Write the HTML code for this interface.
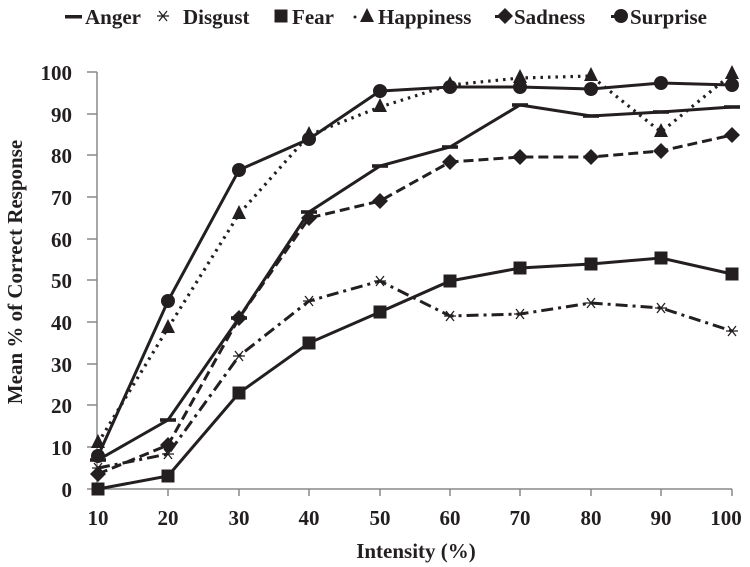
<!DOCTYPE html>
<html><head><meta charset="utf-8"><style>html,body{margin:0;padding:0;background:#fff}svg{display:block}</style></head>
<body>
<svg width="750" height="567" viewBox="0 0 750 567" xmlns="http://www.w3.org/2000/svg" font-family="'Liberation Serif',serif" font-weight="bold" fill="#231f20">
<defs>
<g id="sq"><rect x="-6.5" y="-6.5" width="13" height="13"/></g>
<g id="ci"><circle r="7"/></g>
<g id="di"><path d="M0,-8 L8,0 L0,8 L-8,0Z"/></g>
<g id="tr"><path d="M0,-9 L7,5 L-7,5Z"/></g>
<g id="an"><rect x="-8" y="-1.8" width="16" height="3.6"/></g>
<g id="as" stroke="#231f20" stroke-width="1.3" fill="none"><path d="M-6,0H6M-4,-5L4,5M4,-5L-4,5"/></g>
</defs>
<!-- legend -->
<g font-size="21">
<rect x="65" y="15" width="17" height="3.5"/><text x="85" y="24">Anger</text>
<use href="#as" x="163" y="16"/><text x="183" y="24">Disgust</text>
<use href="#sq" x="281" y="16"/><text x="292" y="24">Fear</text>
<circle cx="355" cy="17" r="1.5"/><use href="#tr" x="367" y="17"/><text x="378" y="24">Happiness</text>
<rect x="495" y="15" width="10" height="3"/><use href="#di" x="505" y="16"/><text x="514" y="24">Sadness</text>
<rect x="611" y="15" width="8" height="3"/><use href="#ci" x="621" y="16"/><text x="630" y="24">Surprise</text>
</g>
<!-- axes -->
<g stroke="#888" stroke-width="1.5" fill="none">
<path d="M97,72V489H732"/>
<path d="M87,72H97M87,114H97M87,155H97M87,197H97M87,239H97M87,280H97M87,322H97M87,364H97M87,405H97M87,447H97M87,489H97"/>
<path d="M168,489v7M239,489v7M309,489v7M380,489v7M450,489v7M520,489v7M591,489v7M661,489v7M732,489v7"/>
</g>
<g font-size="21" text-anchor="end">
<text x="72" y="80">100</text><text x="72" y="122">90</text><text x="72" y="163">80</text><text x="72" y="205">70</text><text x="72" y="247">60</text><text x="72" y="288">50</text><text x="72" y="330">40</text><text x="72" y="372">30</text><text x="72" y="413">20</text><text x="72" y="455">10</text><text x="72" y="497">0</text>
</g>
<g font-size="21" text-anchor="middle">
<text x="98" y="525">10</text><text x="168" y="525">20</text><text x="239" y="525">30</text><text x="309" y="525">40</text><text x="380" y="525">50</text><text x="450" y="525">60</text><text x="520" y="525">70</text><text x="591" y="525">80</text><text x="661" y="525">90</text><text x="726" y="525">100</text>
<text x="416" y="558">Intensity (%)</text>
<text transform="translate(22,272) rotate(-90)">Mean % of Correct Response</text>
</g>
<!-- series -->
<g fill="none" stroke="#231f20" stroke-width="3">
<polyline id="anger" points="98,460 168,420 239,318 309,212 380,166 450,147 520,105 591,116 661,112 732,107"/>
<polyline stroke-dasharray="12,5,3,5" points="98,468 168,454 239,356 309,301 380,281 450,316 520,314 591,303 661,308 732,331"/>
<polyline points="98,489 168,476 239,393 309,343 380,412 450,281 520,268 591,264 661,258 732,274" style="display:none"/>
<polyline points="98,489 168,476 239,393 309,343 380,312 450,281 520,268 591,264 661,258 732,274"/>
<polyline stroke-dasharray="2.5,5" stroke-width="3.2" points="98,443 168,328 239,214 309,135 380,107 450,85 520,78 591,76 661,132 732,74"/>
<polyline stroke-dasharray="10,5" points="98,474 168,445 239,318 309,218 380,201 450,162 520,157 591,157 661,151 732,135"/>
<polyline points="98,456 168,301 239,170 309,139 380,91 450,87 520,87 591,89 661,83 732,85"/>
</g>
<g>
<use href="#an" x="98" y="460"/><use href="#an" x="168" y="420"/><use href="#an" x="239" y="318"/><use href="#an" x="309" y="212"/><use href="#an" x="380" y="166"/><use href="#an" x="450" y="147"/><use href="#an" x="520" y="105"/><use href="#an" x="591" y="116"/><use href="#an" x="661" y="112"/><use href="#an" x="732" y="107"/>
<use href="#as" x="98" y="468"/><use href="#as" x="168" y="454"/><use href="#as" x="239" y="356"/><use href="#as" x="309" y="301"/><use href="#as" x="380" y="281"/><use href="#as" x="450" y="316"/><use href="#as" x="520" y="314"/><use href="#as" x="591" y="303"/><use href="#as" x="661" y="308"/><use href="#as" x="732" y="331"/>
<use href="#sq" x="98" y="489"/><use href="#sq" x="168" y="476"/><use href="#sq" x="239" y="393"/><use href="#sq" x="309" y="343"/><use href="#sq" x="380" y="312"/><use href="#sq" x="450" y="281"/><use href="#sq" x="520" y="268"/><use href="#sq" x="591" y="264"/><use href="#sq" x="661" y="258"/><use href="#sq" x="732" y="274"/>
<use href="#tr" x="98" y="443"/><use href="#tr" x="168" y="328"/><use href="#tr" x="239" y="214"/><use href="#tr" x="309" y="135"/><use href="#tr" x="380" y="107"/><use href="#tr" x="450" y="85"/><use href="#tr" x="520" y="78"/><use href="#tr" x="591" y="76"/><use href="#tr" x="661" y="132"/><use href="#tr" x="732" y="74"/>
<use href="#di" x="98" y="474"/><use href="#di" x="168" y="445"/><use href="#di" x="239" y="318"/><use href="#di" x="309" y="218"/><use href="#di" x="380" y="201"/><use href="#di" x="450" y="162"/><use href="#di" x="520" y="157"/><use href="#di" x="591" y="157"/><use href="#di" x="661" y="151"/><use href="#di" x="732" y="135"/>
<use href="#ci" x="98" y="456"/><use href="#ci" x="168" y="301"/><use href="#ci" x="239" y="170"/><use href="#ci" x="309" y="139"/><use href="#ci" x="380" y="91"/><use href="#ci" x="450" y="87"/><use href="#ci" x="520" y="87"/><use href="#ci" x="591" y="89"/><use href="#ci" x="661" y="83"/><use href="#ci" x="732" y="85"/>
</g>
</svg>
</body></html>
